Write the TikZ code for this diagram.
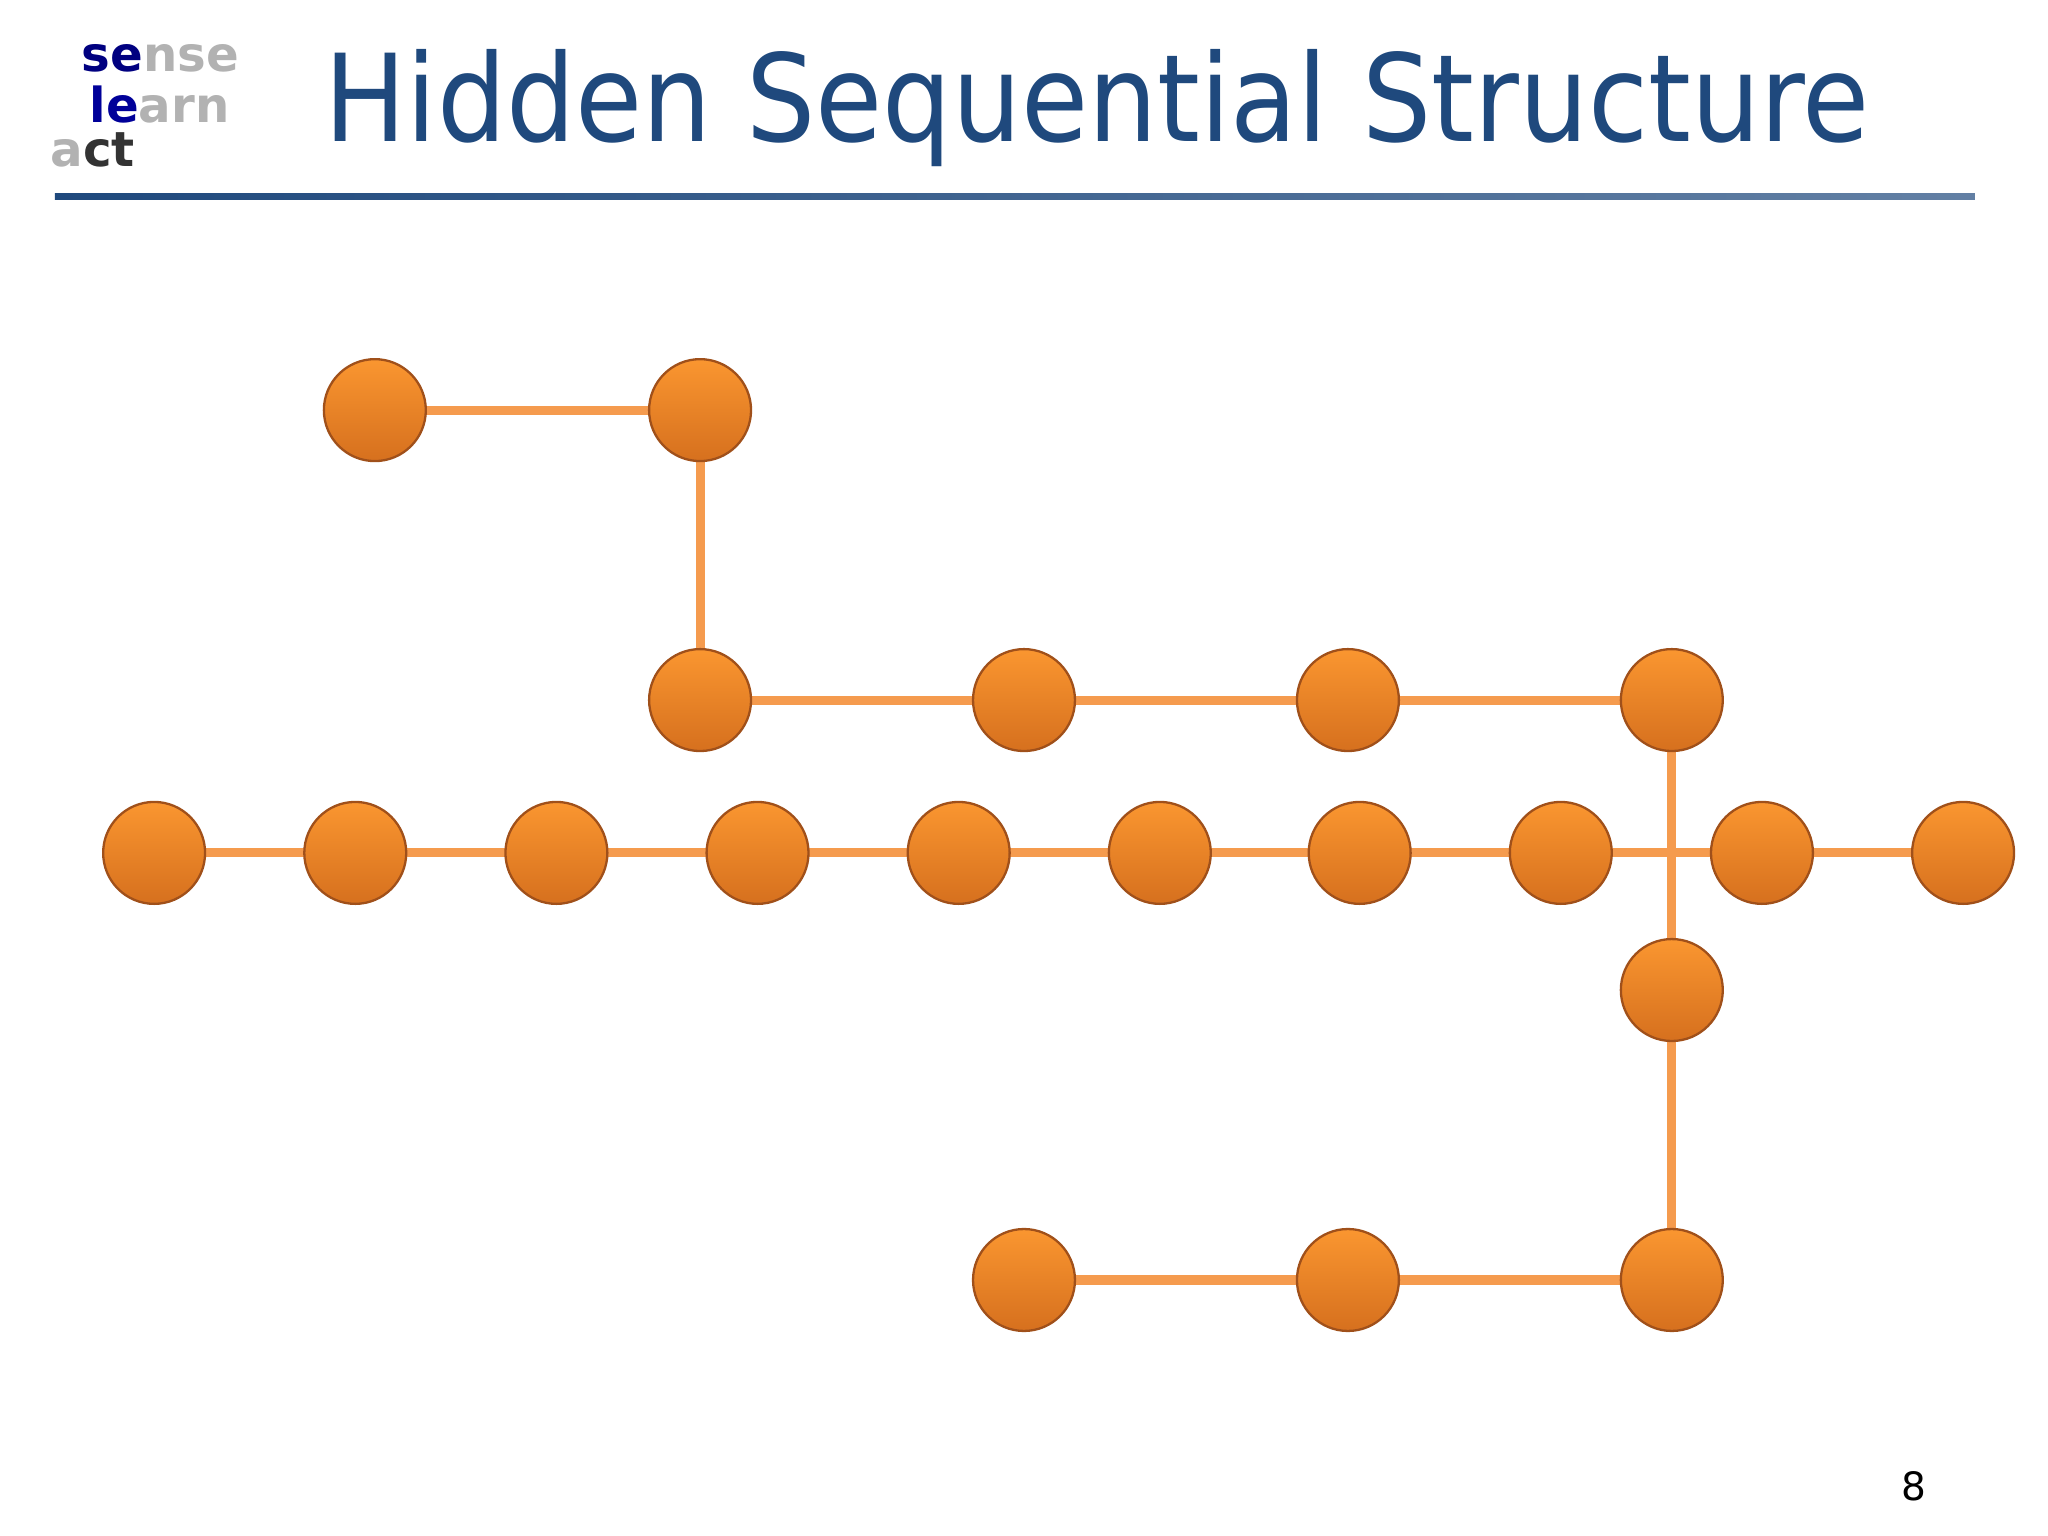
\documentclass[tikz,border=0pt]{standalone}
\usepackage{fontspec}
\setmainfont{DejaVu Sans}
\newfontfamily\condfont{DejaVu Sans Condensed}
\begin{document}
\begin{tikzpicture}[x=0.01cm,y=-0.01cm,
  dot/.style={circle,minimum size=0.78cm,inner sep=0pt,draw=dotborder,line width=0.5pt,top color=dottop,bottom color=dotbot},
  link/.style={draw=linkcol,line width=0.07cm}]
\definecolor{titleblue}{RGB}{31,73,125}
\definecolor{dottop}{RGB}{250,150,48}
\definecolor{dotbot}{RGB}{214,112,30}
\definecolor{dotborder}{RGB}{160,80,26}
\definecolor{linkcol}{RGB}{245,155,78}
\useasboundingbox (0,0) rectangle (1568,1176);
\node[anchor=west,text=titleblue,inner sep=0pt] (title) at (248,83) {\resizebox{11.82cm}{!}{\condfont\fontsize{28}{30}\selectfont Hidden Sequential Structure}};
\shade[left color=titleblue,right color=titleblue!70!white] (42,148) rectangle (1512,153);
\node[font=\bfseries\fontsize{10.5}{11}\selectfont,anchor=west,inner sep=0pt] (l1) at (62,45) {\textcolor{blue!50!black}{se}\textcolor{gray!60}{nse}};
\node[font=\bfseries\fontsize{10.5}{11}\selectfont,anchor=west,inner sep=0pt] (l2) at (68,80) {\textcolor{blue!60!black}{le}\textcolor{gray!60}{arn}};
\node[font=\bfseries\fontsize{10.5}{11}\selectfont,anchor=west,inner sep=0pt] (l3) at (38,115) {\textcolor{gray!60}{a}\textcolor{gray!40!black}{ct}};
\node[font=\fontsize{8.5}{9}\selectfont] (pg) at (1465,1138) {8};
\foreach \n/\x/\y in {a1/287/314,a2/536/314,b1/536/536,b2/784/536,b3/1032/536,b4/1280/536,c/1280/758,d1/784/980,d2/1032/980,d3/1280/980}
  \coordinate (\n) at (\x,\y);
\foreach \i/\x in {1/118,2/272,3/426,4/580,5/734,6/888,7/1041,8/1195,9/1349,10/1503}
  \coordinate (r\i) at (\x,653);
\draw[link] (r1)--(r2)--(r3)--(r4)--(r5)--(r6)--(r7)--(r8)--(r9)--(r10);
\draw[link] (a1)--(a2)--(b1)--(b2)--(b3)--(b4)--(c)--(d3)--(d2)--(d1);
\foreach \n in {a1,a2,b1,b2,b3,b4,c,d1,d2,d3,r1,r2,r3,r4,r5,r6,r7,r8,r9,r10}
  \node[dot] (n\n) at (\n) {};
\end{tikzpicture}
\end{document}
